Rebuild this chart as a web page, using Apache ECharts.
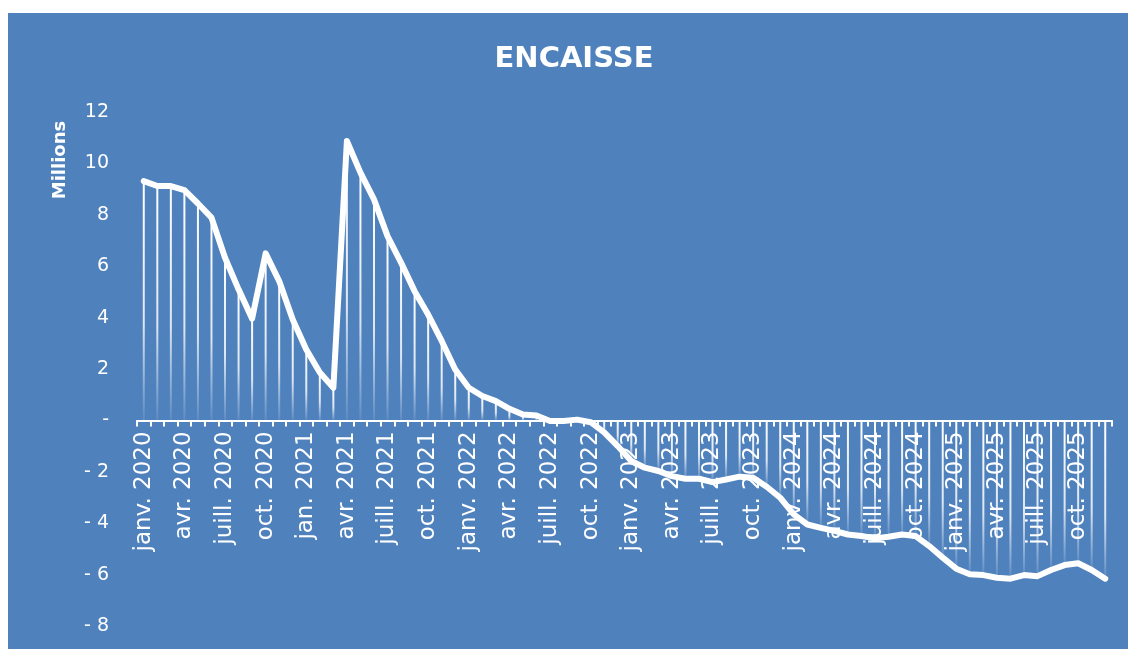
<!DOCTYPE html>
<html>
<head>
<meta charset="utf-8">
<script src="https://cdn.jsdelivr.net/npm/echarts@6/dist/echarts.min.js"></script>
<style>
  html, body { margin: 0; padding: 0; background: #ffffff; }
  #chart { position: absolute; left: 8px; top: 13px; width: 1120px; height: 636px; }
</style>
</head>
<body>
<div id="chart"></div>
<script>
// Month abbreviations and years of the monthly series
const monthNames = ['janv.', 'févr.', 'mars', 'avr.', 'mai', 'juin', 'juill.', 'août', 'sept.', 'oct.', 'nov.', 'déc.'];
const years = [2020, 2021, 2022, 2023, 2024, 2025];

// Cash balance, in millions, one value per month
const encaisse2020 = [9.31, 9.12, 9.12, 8.96, 8.44, 7.89, 6.33, 5.10, 3.96, 6.50, 5.42, 3.93];
const encaisse2021 = [2.76, 1.86, 1.27, 10.87, 9.64, 8.60, 7.17, 6.14, 5.03, 4.12, 3.09, 1.98];
const encaisse2022 = [1.27, 0.95, 0.75, 0.45, 0.23, 0.19, -0.02, -0.02, 0.03, -0.07, -0.47, -1.00];
const encaisse2023 = [-1.58, -1.84, -1.97, -2.17, -2.27, -2.27, -2.40, -2.30, -2.19, -2.23, -2.58, -3.01];
const encaisse2024 = [-3.66, -4.05, -4.18, -4.30, -4.44, -4.50, -4.59, -4.53, -4.44, -4.50, -4.89, -5.34];
const encaisse2025 = [-5.77, -5.99, -6.02, -6.12, -6.16, -6.02, -6.06, -5.82, -5.63, -5.56, -5.82, -6.16];

const values = [].concat(encaisse2020, encaisse2021, encaisse2022, encaisse2023, encaisse2024, encaisse2025);

const categories = [];
years.forEach(function (y) {
  monthNames.forEach(function (m, i) {
    // January 2021 is written in its short form on the axis
    const name = (y === 2021 && i === 0) ? 'jan.' : m;
    categories.push(name + ' ' + y);
  });
});

const yMin = -8, yMax = 12;
const gridTop = 99, gridBottom = 23, chartHeight = 636;
// vertical distance from the bottom of the plot to the zero line
const plotHeight = chartHeight - gridTop - gridBottom;
const zeroOffset = -plotHeight * (0 - yMin) / (yMax - yMin);

const chart = echarts.init(document.getElementById('chart'), null, { renderer: 'canvas' });

const option = {
  backgroundColor: '#4f81bd',
  animation: false,
  grid: { left: 129, right: 16, top: gridTop, bottom: gridBottom, containLabel: false, outerBoundsMode: 'none' },
  graphic: [
    {
      type: 'text',
      x: 566, y: 46,
      style: {
        text: 'ENCAISSE',
        fill: '#ffffff',
        font: 'bold 29px "DejaVu Sans"',
        align: 'center',
        verticalAlign: 'middle'
      }
    },
    {
      type: 'text',
      x: 52, y: 147,
      rotation: Math.PI / 2,
      style: {
        text: 'Millions',
        fill: '#ffffff',
        font: 'bold 18px "DejaVu Sans"',
        align: 'center',
        verticalAlign: 'middle'
      }
    }
  ],
  xAxis: [
    {
      // axis line and ticks sitting on zero
      type: 'category',
      data: categories,
      boundaryGap: true,
      axisLine: { onZero: true, lineStyle: { color: '#ffffff', width: 2 } },
      axisTick: { show: true, interval: 0, length: 6, lineStyle: { color: '#ffffff', width: 2 } },
      axisLabel: { show: false },
      splitLine: { show: false }
    },
    {
      // month labels hanging below the zero line
      type: 'category',
      data: categories,
      position: 'bottom',
      offset: zeroOffset,
      boundaryGap: true,
      axisLine: { show: false, onZero: false },
      axisTick: { show: false },
      axisLabel: {
        interval: 2,
        rotate: 90,
        margin: 11,
        color: '#ffffff',
        fontFamily: 'DejaVu Sans',
        fontSize: 23
      },
      splitLine: { show: false }
    }
  ],
  yAxis: {
    type: 'value',
    min: yMin,
    max: yMax,
    interval: 2,
    axisLine: { show: false },
    axisTick: { show: false },
    splitLine: { show: false },
    axisLabel: {
      margin: 28,
      color: '#ffffff',
      fontFamily: 'DejaVu Sans',
      fontSize: 19,
      formatter: function (v) {
        if (v === 0) return '-';
        if (v < 0) return '- ' + Math.abs(v);
        return String(v);
      }
    }
  },
  series: [
    {
      // drop lines from each month to the zero line
      type: 'bar',
      data: values,
      barWidth: 2,
      z: 1,
      itemStyle: {
        color: new echarts.graphic.LinearGradient(0, 0, 0, 1, [
          { offset: 0, color: 'rgba(255,255,255,1)' },
          { offset: 0.6, color: 'rgba(255,255,255,0.8)' },
          { offset: 1, color: 'rgba(255,255,255,0.08)' }
        ])
      }
    },
    {
      type: 'line',
      data: values,
      z: 3,
      symbol: 'none',
      smooth: false,
      lineStyle: { color: '#ffffff', width: 6, cap: 'round', join: 'round' }
    }
  ]
};

chart.setOption(option);
</script>
</body>
</html>
